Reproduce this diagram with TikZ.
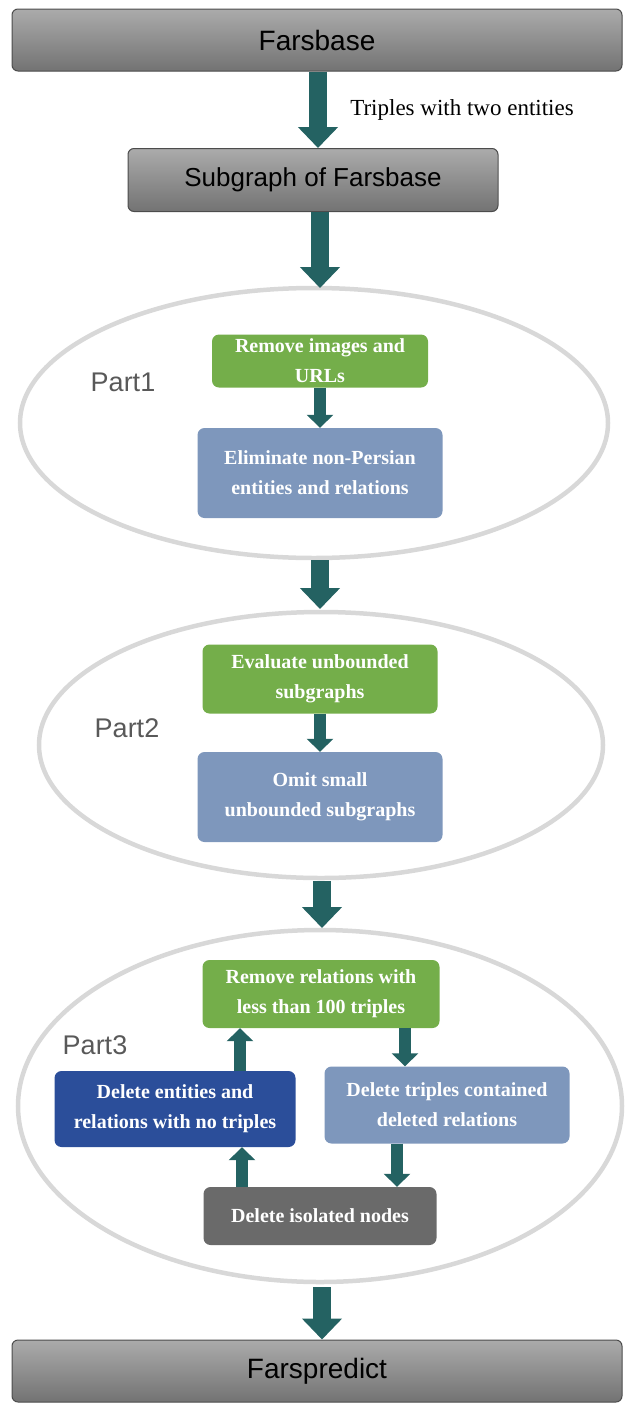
\documentclass[tikz,border=0pt]{standalone}
\usepackage{fontspec}
\setmainfont{Liberation Serif}
\setsansfont{Liberation Sans}
\usetikzlibrary{arrows.meta}
\definecolor{arr}{HTML}{246262}
\definecolor{grn}{HTML}{74AE4A}
\definecolor{lblue}{HTML}{7E97BC}
\definecolor{dblue}{HTML}{2B4E9A}
\definecolor{gbox}{HTML}{6A6A6A}
\definecolor{ell}{HTML}{D8D8D8}
\tikzset{
  graybar/.style={draw=black!70, line width=1pt, rounded corners=6pt, top color=black!33, bottom color=black!55, font=\sffamily\fontsize{28}{32}\selectfont, text=black},
  stepbox/.style={rounded corners=7pt, text=white, font=\bfseries\fontsize{20}{30}\selectfont, align=center, inner sep=0pt},
  bigarrow/.style={arr, line width=18pt, -{Triangle[width=39pt,length=21pt]}},
  smallarrow/.style={arr, line width=12pt, -{Triangle[width=26pt,length=13pt]}},
  partring/.style={draw=ell, line width=4.5pt},
  partlabel/.style={font=\sffamily\fontsize{27}{30}\selectfont, text=black!65}
}
\begin{document}
\begin{tikzpicture}[x=1pt,y=-1pt]
\useasboundingbox (0,0) rectangle (640,1416);
% top
\node[graybar, minimum width=610pt, minimum height=62pt] (fb) at (317,40) {Farsbase};
\node[graybar, minimum width=370pt, minimum height=63pt, font=\sffamily\fontsize{26}{30}\selectfont] (sub) at (313,180) {Subgraph of Farsbase};
\draw[bigarrow] (fb.south -| 318,0) -- (sub.north -| 318,0) node[midway, right=20pt, text=black, font=\fontsize{23}{26}\selectfont] (lab) {Triples with two entities};
% part 1
\draw[partring] (314,423) ellipse [x radius=294, y radius=135];
\coordinate (e1top) at (320,288);
\coordinate (e1bot) at (320,560);
\draw[bigarrow] (sub.south -| 320,0) -- (e1top);
\node[stepbox, fill=grn, minimum width=216pt, minimum height=53pt] (g1) at (320,361) {Remove images and\\URLs};
\node[stepbox, fill=lblue, minimum width=245pt, minimum height=90pt] (b1) at (320,473) {Eliminate non-Persian\\entities and relations};
\draw[smallarrow] (g1) -- (b1);
\node[partlabel] (p1) at (123,382) {Part1};
% part 2
\draw[partring] (321,745) ellipse [x radius=282, y radius=133];
\coordinate (e2top) at (320,609);
\coordinate (e2bot) at (322,881);
\draw[bigarrow] (e1bot) -- (e2top);
\node[stepbox, fill=grn, minimum width=235pt, minimum height=69pt] (g2) at (320,679) {Evaluate unbounded\\subgraphs};
\node[stepbox, fill=lblue, minimum width=245pt, minimum height=90pt] (b2) at (320,797) {Omit small\\unbounded subgraphs};
\draw[smallarrow] (g2) -- (b2);
\node[partlabel] (p2) at (127,728) {Part2};
% part 3
\draw[partring] (320,1106) ellipse [x radius=302, y radius=176];
\coordinate (e3top) at (322,928);
\coordinate (e3bot) at (322,1287);
\draw[bigarrow] (e2bot) -- (e3top);
\node[stepbox, fill=grn, minimum width=237pt, minimum height=68pt] (g3) at (321,994) {Remove relations with\\less than 100 triples};
\node[stepbox, fill=dblue, minimum width=241pt, minimum height=76pt] (d3) at (175,1109) {Delete entities and\\relations with no triples};
\node[stepbox, fill=lblue, minimum width=245pt, minimum height=77pt] (l3) at (447,1105) {Delete triples contained\\deleted relations};
\node[stepbox, fill=gbox, minimum width=233pt, minimum height=58pt] (gr3) at (320,1216) {Delete isolated nodes};
\node[partlabel] (p3) at (95,1045) {Part3};
\draw[smallarrow] (g3.south -| 405,0) -- (l3.north -| 405,0);
\draw[smallarrow] (d3.north -| 240,0) -- (g3.south -| 240,0);
\draw[smallarrow] (l3.south -| 397,0) -- (gr3.north -| 397,0);
\draw[smallarrow] (gr3.north -| 242,0) -- (d3.south -| 242,0);
% bottom
\node[graybar, minimum width=610pt, minimum height=62pt] (fp) at (317,1371) {Farspredict};
\draw[bigarrow] (e3bot) -- (fp.north -| 322,0);
\end{tikzpicture}
\end{document}
